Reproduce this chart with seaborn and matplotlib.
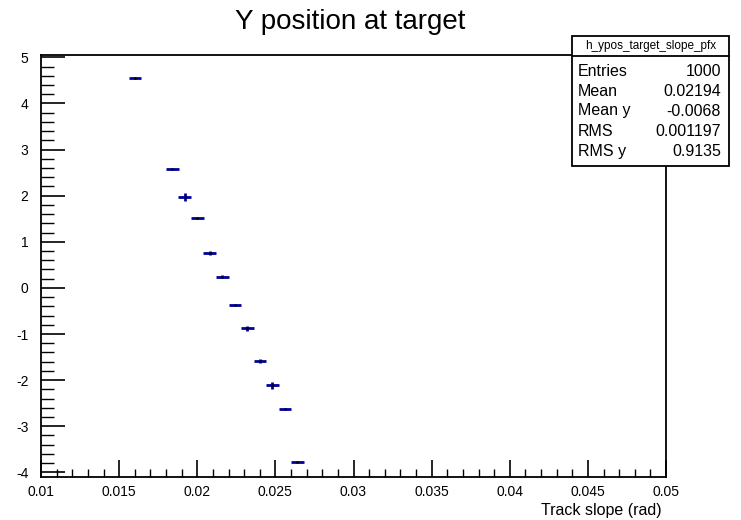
import numpy as np
import pandas as pd
import matplotlib
matplotlib.use("Agg")
import matplotlib.pyplot as plt
from matplotlib.ticker import MultipleLocator
from matplotlib.patches import Rectangle
import seaborn as sns

# Profile bin centres (track slope, rad) and mean y position per bin
slope = [0.0160, 0.0184, 0.0192, 0.0200, 0.0208, 0.0216,
         0.0224, 0.0232, 0.0240, 0.0248, 0.0256, 0.0264]
ypos = [4.56, 2.58, 1.97, 1.51, 0.75, 0.24,
        -0.37, -0.88, -1.59, -2.11, -2.62, -3.78]
yerr = [0.0, 0.0, 0.08, 0.0, 0.04, 0.03,
        0.0, 0.05, 0.04, 0.08, 0.0, 0.0]
bin_half_width = 0.0004

xtick_values = [0.01, 0.015, 0.02, 0.025, 0.03, 0.035, 0.04, 0.045, 0.05]
xtick_labels = ["0.01", "0.015", "0.02", "0.025", "0.03",
                "0.035", "0.04", "0.045", "0.05"]

stat_names = ["Entries", "Mean", "Mean y", "RMS", "RMS y"]
stat_values = ["1000", "0.02194", "-0.0068", "0.001197", "0.9135"]
hist_name = "h_ypos_target_slope_pfx"

df = pd.DataFrame({"slope": slope, "ypos": ypos, "yerr": yerr})

sns.set_style("ticks")
plt.rcParams["font.family"] = ["Liberation Sans", "DejaVu Sans"]
plt.rcParams["axes.unicode_minus"] = False
plt.rcParams["text.color"] = "black"
plt.rcParams["xtick.color"] = "black"
plt.rcParams["ytick.color"] = "black"

W, H = 741, 520
fig = plt.figure(figsize=(W / 100, H / 100), dpi=100)
ax = fig.add_axes([41 / W, 1 - 477 / H, (666 - 41) / W, (477 - 55) / H])

blue = "#00009a"
ax.errorbar(df["slope"], df["ypos"], xerr=bin_half_width, yerr=df["yerr"],
            fmt="none", ecolor=blue, elinewidth=2.0, capsize=0)
sns.scatterplot(data=df, x="slope", y="ypos", ax=ax, color="black",
                s=3, marker="o", linewidth=0, zorder=3)

ax.set_xlim(0.01, 0.05)
ax.set_ylim(-4.1, 5.05)
ax.set_xticks(xtick_values)
ax.set_xticklabels(xtick_labels)
ax.xaxis.set_minor_locator(MultipleLocator(0.001))
ax.yaxis.set_major_locator(MultipleLocator(1))
ax.yaxis.set_minor_locator(MultipleLocator(0.2))

ax.tick_params(axis="both", which="both", direction="in", colors="black",
               labelcolor="black", labelsize=10, top=False, right=False)
ax.tick_params(axis="y", which="major", length=17, width=1.2, pad=9)
ax.tick_params(axis="y", which="minor", length=9, width=1.0)
ax.tick_params(axis="x", which="major", length=12, width=1.2, pad=6)
ax.tick_params(axis="x", which="minor", length=6, width=1.0)

for s in ax.spines.values():
    s.set_visible(True)
    s.set_color("black")
    s.set_linewidth(1.3)

ax.set_xlabel("")
ax.set_ylabel("")
fig.text(662 / W, 1 - 510 / H, "Track slope (rad)", ha="right", va="center",
         fontsize=11.5)

fig.text(350 / W, 1 - 22 / H, "Y position at target", ha="center",
         va="center", fontsize=20)

# Statistics box
bx0, bx1, by0, by1, bysep = 572, 729, 36, 166, 56
fig.patches.append(Rectangle((bx0 / W, 1 - by1 / H), (bx1 - bx0) / W,
                             (by1 - by0) / H, transform=fig.transFigure,
                             facecolor="white", edgecolor="black",
                             linewidth=1.3, zorder=5))
fig.add_artist(plt.Line2D([bx0 / W, bx1 / W], [1 - bysep / H, 1 - bysep / H],
                          transform=fig.transFigure, color="black",
                          linewidth=1.3, zorder=6))
fig.text((bx0 + bx1) / 2 / W, 1 - 46 / H, hist_name, ha="center",
         va="center", fontsize=8.5, zorder=7)
rows_y = [71, 91, 111, 131, 151]
for name, val, ry in zip(stat_names, stat_values, rows_y):
    fig.text(578 / W, 1 - ry / H, name, ha="left", va="center",
             fontsize=11.5, zorder=7)
    fig.text(721 / W, 1 - ry / H, val, ha="right", va="center",
             fontsize=11.5, zorder=7)

fig.savefig("out.png", dpi=100, facecolor="white")
